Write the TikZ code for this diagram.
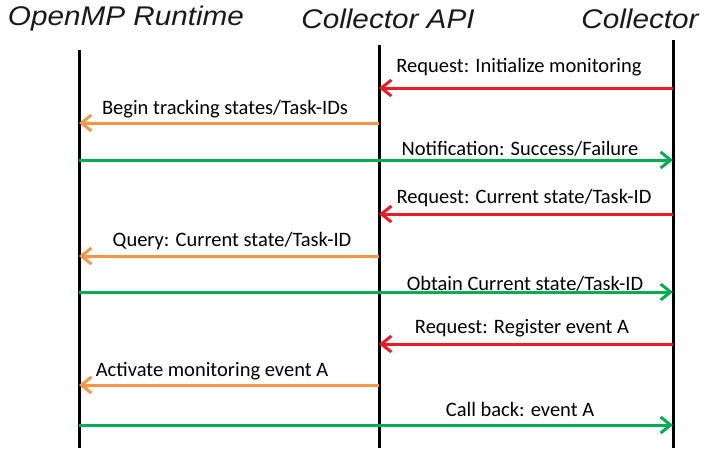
\documentclass[tikz,border=0pt]{standalone}
\usepackage{fontspec}
\setmainfont{Carlito}
\newfontfamily\titlefont{Liberation Sans}
\usetikzlibrary{arrows.meta}
\definecolor{reqred}{RGB}{237,28,36}
\definecolor{qorange}{RGB}{247,150,70}
\definecolor{okgreen}{RGB}{0,176,80}
\tikzset{
  lifeline/.style={line width=3pt, black},
  msg/.style={line width=3pt, -{Straight Barb[length=10pt,width=16pt,line width=3pt]}},
  lbl/.style={font=\fontsize{20.5}{24}\selectfont, inner sep=0pt, anchor=base},
  ttl/.style={font=\titlefont\itshape\fontsize{27}{31}\selectfont, inner sep=0pt, text=black!90},
}
\begin{document}
\begin{tikzpicture}[x=1pt,y=-1pt]
\useasboundingbox (0,0) rectangle (706,450);
% titles
\node[ttl] (t1) at (126,19) {\scalebox{1.1}[1]{OpenMP Runtime}};
\node[ttl] (t2) at (388,19) {\scalebox{1.1}[1]{Collector API}};
\node[ttl] (t3) at (640,19) {\scalebox{1.1}[1]{Collector}};
% lifelines
\coordinate (rtTop) at (79,50);   \coordinate (rtBot) at (79,448);
\coordinate (apiTop) at (379,45); \coordinate (apiBot) at (379,448);
\coordinate (colTop) at (673,40); \coordinate (colBot) at (673,448);
\draw[lifeline] (rtTop) -- (rtBot);
\draw[lifeline] (apiTop) -- (apiBot);
\draw[lifeline] (colTop) -- (colBot);
% message end points
\foreach \n/\y in {1/88,2/123,3/160,4/214,5/256,6/292,7/344,8/385,9/425}{
  \coordinate (rt\n) at (79,\y);
  \coordinate (api\n) at (379,\y);
  \coordinate (col\n) at (673,\y);
}
% messages
\draw[msg, reqred] (col1) -- (api1);
\node[lbl] (m1) at (519,72) {Request: Initialize monitoring};
\draw[msg, qorange] (api2) -- (rt2);
\node[lbl] (m2) at (225,114) {Begin tracking states/Task-IDs};
\draw[msg, okgreen] (rt3) -- (col3);
\node[lbl] (m3) at (520,155) {Notification: Success/Failure};
\draw[msg, reqred] (col4) -- (api4);
\node[lbl] (m4) at (524,203) {Request: Current state/Task-ID};
\draw[msg, qorange] (api5) -- (rt5);
\node[lbl] (m5) at (232,246) {Query: Current state/Task-ID};
\draw[msg, okgreen] (rt6) -- (col6);
\node[lbl] (m6) at (525,290) {Obtain Current state/Task-ID};
\draw[msg, reqred] (col7) -- (api7);
\node[lbl] (m7) at (522,333) {Request: Register event A};
\draw[msg, qorange] (api8) -- (rt8);
\node[lbl] (m8) at (212,376) {Activate monitoring event A};
\draw[msg, okgreen] (rt9) -- (col9);
\node[lbl] (m9) at (520,416) {Call back: event A};
\end{tikzpicture}
\end{document}
